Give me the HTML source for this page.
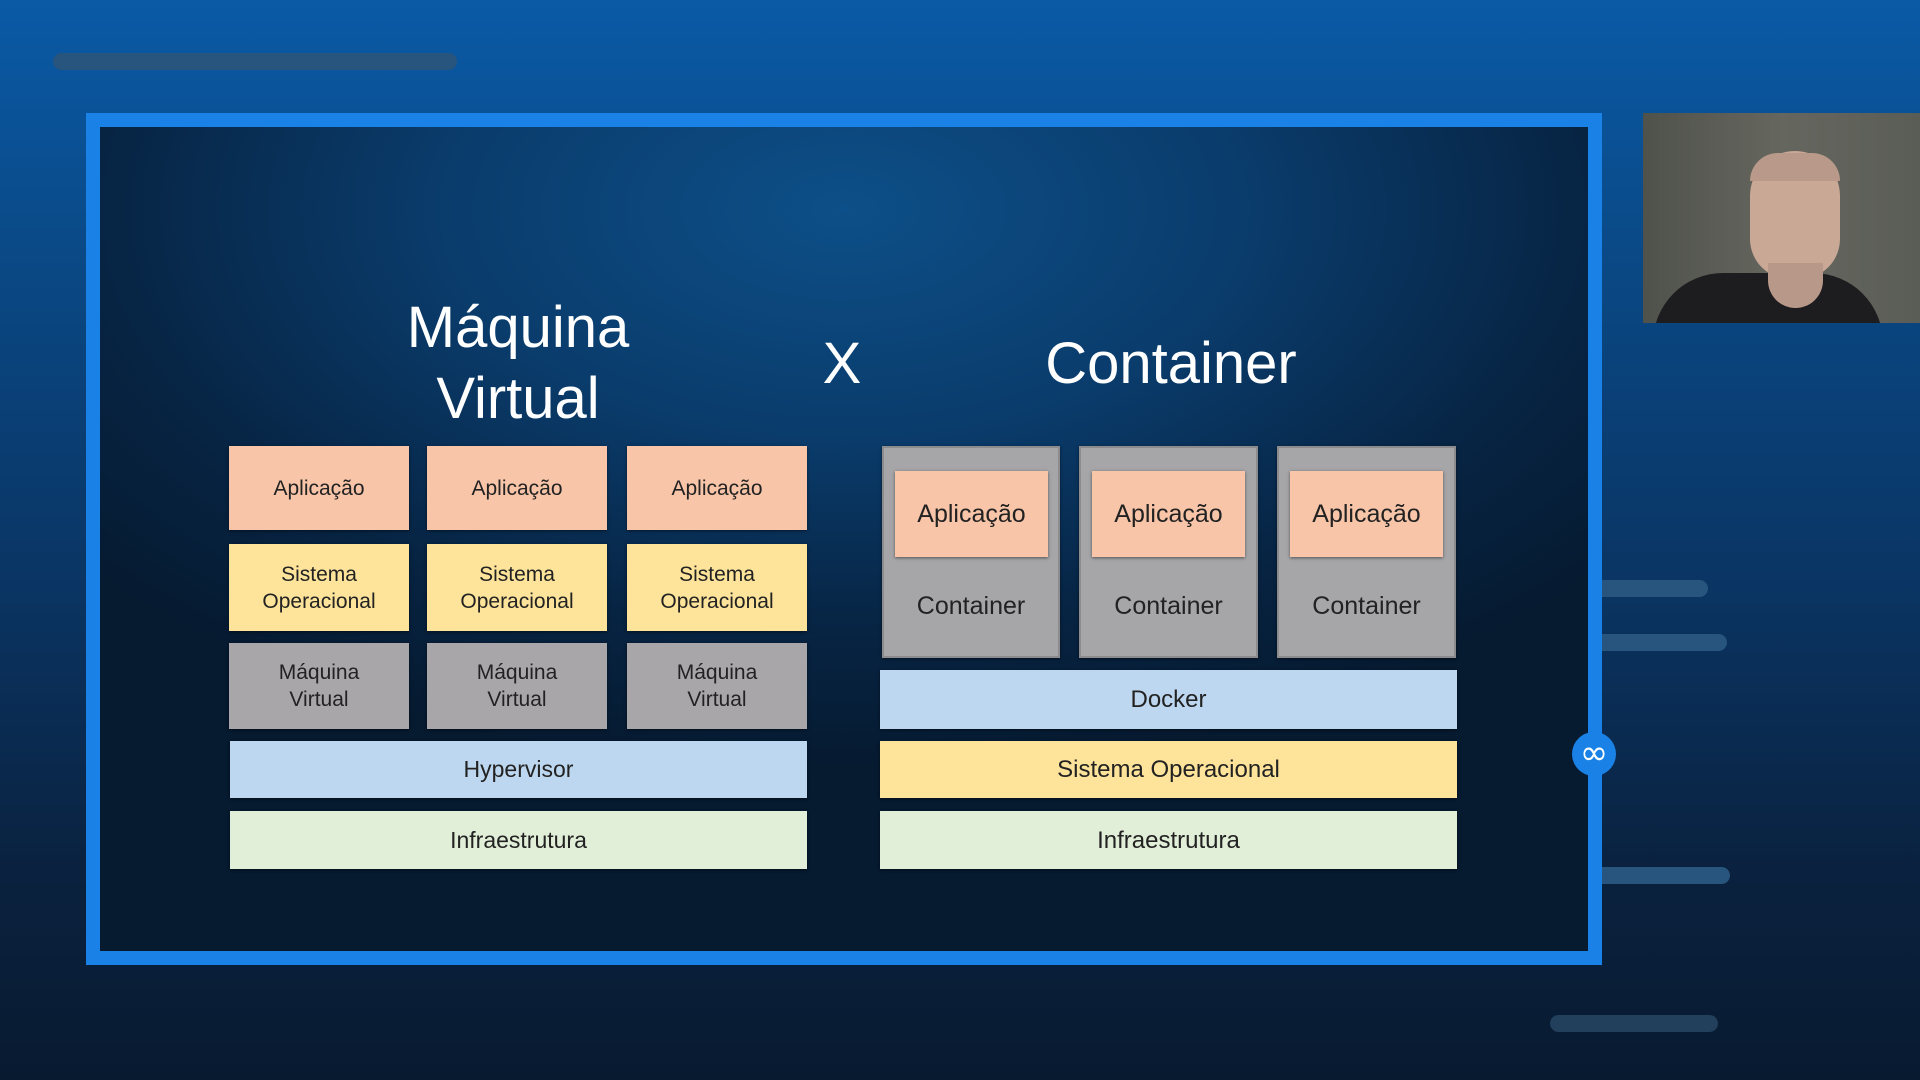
<!DOCTYPE html>
<html><head><meta charset="utf-8"><style>
*{margin:0;padding:0;box-sizing:border-box}
body{width:1920px;height:1080px;overflow:hidden;position:relative;font-family:"Liberation Sans",sans-serif;
background:linear-gradient(180deg,#0a5aa6 0%,#0a4a88 22%,#0a3462 55%,#0a2240 80%,#081a30 100%);}
.abs{position:absolute}
.pill{position:absolute;background:#27557d;border-radius:9px;height:17px}
.frame{left:86px;top:113px;width:1516px;height:852px;border:14px solid #1a82e6;
background:radial-gradient(ellipse 1000px 560px at 50% 10%,#0d4f88 0%,#0a3c6c 40%,#072443 75%,#061a30 100%);}
.b{position:absolute;display:flex;align-items:center;justify-content:center;text-align:center;color:#222;font-size:21px;line-height:27px;box-shadow:0 1px 3px rgba(0,0,0,.5)}
.app{background:#f8c5a8}
.so{background:#fde49a}
.mv{background:#a8a6a8}
.hy{background:#bdd7f0}
.inf{background:#e2efd8}
.ct{background:#a6a5a7;border:2px solid #8c8b8e;}
.t{position:absolute;color:#fff;font-size:58px;text-align:center;line-height:71px}
</style></head><body>
<div class="pill" style="left:53px;top:53px;width:404px"></div>
<div class="pill" style="left:1590px;top:580px;width:118px"></div>
<div class="pill" style="left:1590px;top:634px;width:137px"></div>
<div class="pill" style="left:1590px;top:867px;width:140px"></div>
<div class="pill" style="left:1550px;top:1015px;width:168px;background:#223f5c"></div>
<div class="abs frame"></div>

<div class="t" style="left:318px;top:292px;width:400px">Máquina<br>Virtual</div>
<div class="t" style="left:800px;top:328px;width:84px">X</div>
<div class="t" style="left:971px;top:328px;width:400px">Container</div>

<div class="b app" style="left:229px;top:446px;width:180px;height:84px">Aplicação</div>
<div class="b app" style="left:427px;top:446px;width:180px;height:84px">Aplicação</div>
<div class="b app" style="left:627px;top:446px;width:180px;height:84px">Aplicação</div>
<div class="b so" style="left:229px;top:544px;width:180px;height:87px">Sistema<br>Operacional</div>
<div class="b so" style="left:427px;top:544px;width:180px;height:87px">Sistema<br>Operacional</div>
<div class="b so" style="left:627px;top:544px;width:180px;height:87px">Sistema<br>Operacional</div>
<div class="b mv" style="left:229px;top:643px;width:180px;height:86px">Máquina<br>Virtual</div>
<div class="b mv" style="left:427px;top:643px;width:180px;height:86px">Máquina<br>Virtual</div>
<div class="b mv" style="left:627px;top:643px;width:180px;height:86px">Máquina<br>Virtual</div>
<div class="b hy" style="left:230px;top:741px;width:577px;height:57px;font-size:23px">Hypervisor</div>
<div class="b inf" style="left:230px;top:811px;width:577px;height:58px;font-size:23px">Infraestrutura</div>

<div class="b ct" style="left:882px;top:446px;width:178px;height:212px;align-items:flex-end;padding-bottom:36px;font-size:25px">Container</div>
<div class="b ct" style="left:1079px;top:446px;width:179px;height:212px;align-items:flex-end;padding-bottom:36px;font-size:25px">Container</div>
<div class="b ct" style="left:1277px;top:446px;width:179px;height:212px;align-items:flex-end;padding-bottom:36px;font-size:25px">Container</div>
<div class="b app" style="left:895px;top:471px;width:153px;height:86px;font-size:25px">Aplicação</div>
<div class="b app" style="left:1092px;top:471px;width:153px;height:86px;font-size:25px">Aplicação</div>
<div class="b app" style="left:1290px;top:471px;width:153px;height:86px;font-size:25px">Aplicação</div>
<div class="b hy" style="left:880px;top:670px;width:577px;height:59px;font-size:24px">Docker</div>
<div class="b so" style="left:880px;top:741px;width:577px;height:57px;font-size:24px">Sistema Operacional</div>
<div class="b inf" style="left:880px;top:811px;width:577px;height:58px;font-size:24px">Infraestrutura</div>

<div class="abs" style="left:1572px;top:732px;width:44px;height:44px;border-radius:50%;background:#1a82e6;color:#fff;font-size:34px;line-height:42px;text-align:center;font-family:'DejaVu Sans',sans-serif">∞</div>

<div class="abs" style="left:1643px;top:113px;width:277px;height:210px;overflow:hidden;background:linear-gradient(90deg,#4f514b,#65675f 50%,#5a5c56);">
  <div class="abs" style="left:107px;top:38px;width:90px;height:128px;border-radius:45px 45px 40px 40px;background:#c9a896"></div>
  <div class="abs" style="left:107px;top:40px;width:90px;height:28px;border-radius:45px 45px 0 0;background:#b8998a"></div>
  <div class="abs" style="left:10px;top:160px;width:230px;height:90px;border-radius:70px 70px 0 0;background:#1d1d20"></div>
  <div class="abs" style="left:125px;top:150px;width:55px;height:45px;border-radius:0 0 30px 30px;background:#b89888"></div>
</div>
</body></html>
